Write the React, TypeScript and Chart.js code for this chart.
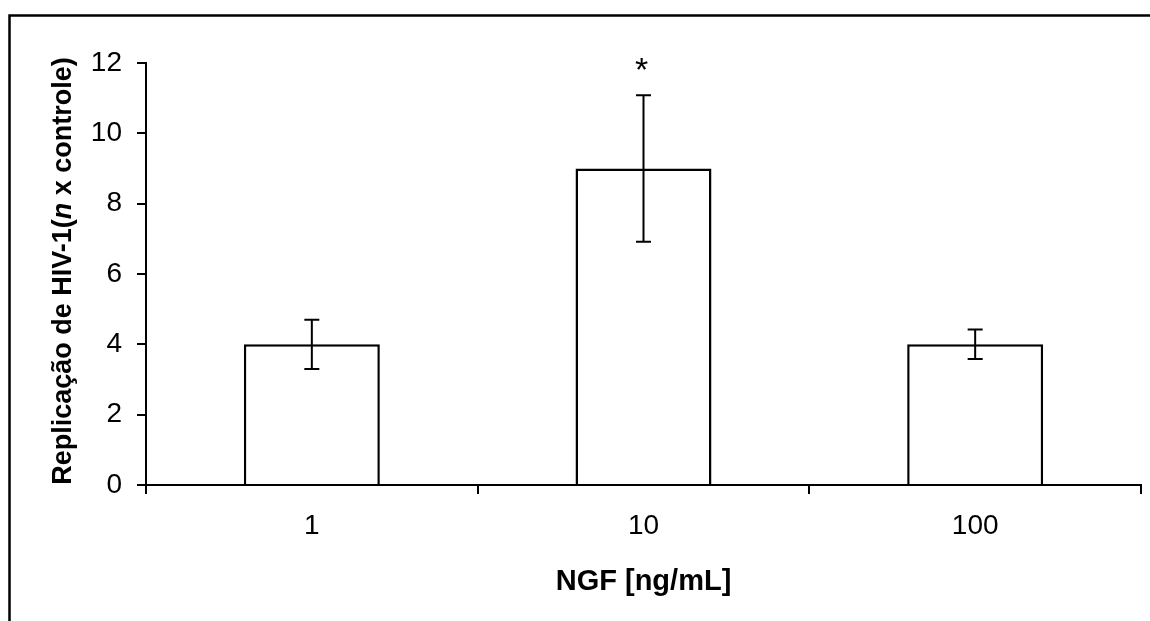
import React, { useEffect, useRef } from "react";
import { Chart, registerables } from "chart.js";

Chart.register(...registerables);

const categories = ["1", "10", "100"];
const means = [4, 9, 4];
const errors = [0.7, 2.08, 0.42];
const significance = ["", "*", ""];
const yMin = 0;
const yMax = 12;
const yStep = 2;

const FONT = "'Liberation Sans', Arial, Helvetica, sans-serif";
const W = 1150;
const H = 621;

const framePlugin = {
  id: "frame",
  beforeDraw(chart: any) {
    const ctx = chart.ctx;
    ctx.save();
    ctx.fillStyle = "#ffffff";
    ctx.fillRect(0, 0, chart.width, chart.height);
    ctx.strokeStyle = "#000000";
    ctx.lineWidth = 2.5;
    ctx.beginPath();
    ctx.moveTo(9.5, chart.height + 10);
    ctx.lineTo(9.5, 15.5);
    ctx.lineTo(chart.width + 10, 15.5);
    ctx.stroke();
    ctx.restore();
  },
};

const errorBarPlugin = {
  id: "errorBars",
  afterDatasetsDraw(chart: any) {
    const ctx = chart.ctx;
    const yScale = chart.scales.y;
    const meta = chart.getDatasetMeta(0);
    ctx.save();
    ctx.strokeStyle = "#000000";
    ctx.lineWidth = 2;
    meta.data.forEach((bar: any, i: number) => {
      const x = bar.x;
      const top = yScale.getPixelForValue(means[i] + errors[i]);
      const bot = yScale.getPixelForValue(means[i] - errors[i]);
      const cap = 7.5;
      ctx.beginPath();
      ctx.moveTo(x, top);
      ctx.lineTo(x, bot);
      ctx.moveTo(x - cap, top);
      ctx.lineTo(x + cap, top);
      ctx.moveTo(x - cap, bot);
      ctx.lineTo(x + cap, bot);
      ctx.stroke();
      if (significance[i]) {
        ctx.fillStyle = "#000000";
        ctx.font = `34px ${FONT}`;
        ctx.textAlign = "center";
        ctx.textBaseline = "middle";
        ctx.fillText(significance[i], x - 2, top - 24);
      }
    });
    ctx.restore();
  },
};

const titlesPlugin = {
  id: "titles",
  afterDraw(chart: any) {
    const ctx = chart.ctx;
    const area = chart.chartArea;
    ctx.save();
    ctx.fillStyle = "#000000";
    // X title
    ctx.font = `bold 29px ${FONT}`;
    ctx.textAlign = "center";
    ctx.textBaseline = "alphabetic";
    ctx.fillText("NGF [ng/mL]", (area.left + area.right) / 2, 590);
    // Y title with italic n
    const parts = [
      { t: "Replicação de HIV-1(", f: `bold 27px ${FONT}` },
      { t: "n", f: `italic bold 27px ${FONT}` },
      { t: " x controle)", f: `bold 27px ${FONT}` },
    ];
    let total = 0;
    const widths = parts.map((p) => {
      ctx.font = p.f;
      const w = ctx.measureText(p.t).width;
      total += w;
      return w;
    });
    ctx.translate(71, 271);
    ctx.rotate(-Math.PI / 2);
    ctx.textAlign = "left";
    ctx.textBaseline = "alphabetic";
    let x = -total / 2;
    parts.forEach((p, i) => {
      ctx.font = p.f;
      ctx.fillText(p.t, x, 0);
      x += widths[i];
    });
    ctx.restore();
  },
};

export default function App() {
  const canvasRef = useRef<HTMLCanvasElement | null>(null);

  useEffect(() => {
    const canvas = canvasRef.current;
    if (!canvas) return;
    const chart = new Chart(canvas, {
      type: "bar",
      data: {
        labels: categories,
        datasets: [
          {
            data: means,
            backgroundColor: "#ffffff",
            borderColor: "#000000",
            borderWidth: 2.5,
            categoryPercentage: 1,
            barPercentage: 0.41,
          },
        ],
      },
      options: {
        responsive: false,
        animation: false,
        devicePixelRatio: 1,
        layout: { padding: { left: 0, top: 63, right: 9, bottom: 0 } },
        plugins: {
          legend: { display: false },
          tooltip: { enabled: false },
          title: { display: false },
        },
        scales: {
          x: {
            type: "category",
            offset: true,
            grid: {
              offset: true,
              drawOnChartArea: false,
              drawTicks: true,
              tickLength: 9,
              color: "#000000",
              lineWidth: 2,
            },
            border: { display: true, color: "#000000", width: 2 },
            ticks: {
              color: "#000000",
              font: { family: FONT, size: 28 },
              padding: 15,
              maxRotation: 0,
            },
            afterFit(scale: any) {
              scale.height = H - 485;
            },
          },
          y: {
            min: yMin,
            max: yMax,
            grid: {
              drawOnChartArea: false,
              drawTicks: true,
              tickLength: 9,
              color: "#000000",
              lineWidth: 2,
            },
            border: { display: true, color: "#000000", width: 2 },
            ticks: {
              stepSize: yStep,
              color: "#000000",
              font: { family: FONT, size: 28 },
              padding: 15,
            },
            afterFit(scale: any) {
              scale.width = 146;
            },
          },
        },
      },
      plugins: [framePlugin, errorBarPlugin, titlesPlugin],
    });
    return () => chart.destroy();
  }, []);

  return (
    <div style={{ position: "fixed", left: 0, top: 0, width: W, height: H, overflow: "hidden", background: "#fff" }}>
      <canvas ref={canvasRef} width={W} height={H} style={{ display: "block", width: W, height: H }} />
    </div>
  );
}
